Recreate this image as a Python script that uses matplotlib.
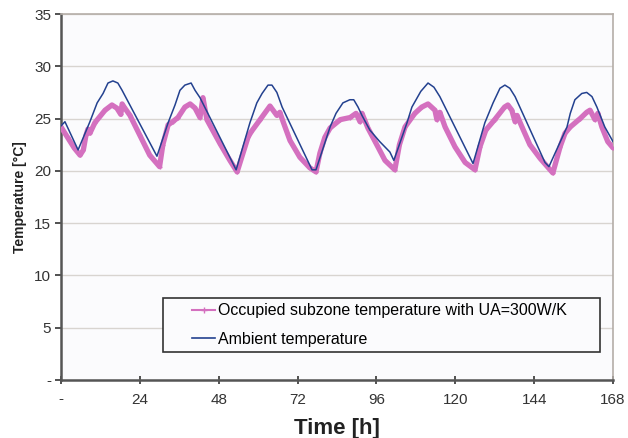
import matplotlib.pyplot as plt
from matplotlib.patches import Rectangle

# ambient temperature (hours, degC)
amb_t = [0, 1.2, 5.2, 8.8, 11, 12.8, 14.3, 15.8, 17.3, 18.6, 29.2,
         32.6, 34.7, 36.2, 37.7, 39.6, 40.8, 42.3, 53.3,
         57.5, 59.6, 61.2, 63, 64.2, 65.7, 67.3, 76.4,
         77.6, 81.9, 83.7, 85.8, 87.9, 89.1, 90.4, 91.6, 94, 97, 100.1, 101.3,
         105.3, 106.8, 109.5, 111.7, 113.5, 115.3, 125.4,
         129, 131.5, 133.6, 135.1, 136.6, 138.2, 147.3,
         148.5, 154, 155, 156.4, 158.5, 160, 161.6, 163.1, 165.5, 168]
amb_v = [24.3, 24.7, 22.0, 24.7, 26.5, 27.4, 28.4, 28.6, 28.4, 27.7, 21.4,
         24.6, 26.3, 27.7, 28.2, 28.4, 27.7, 27.0, 20.1,
         24.6, 26.5, 27.4, 28.2, 28.2, 27.5, 26.1, 20.1,
         20.1, 24.2, 25.5, 26.5, 26.8, 26.8, 26.1, 25.3, 23.9, 22.8, 21.8, 21.0,
         24.6, 26.1, 27.6, 28.4, 28.0, 27.1, 20.7,
         24.6, 26.5, 27.9, 28.2, 27.9, 27.1, 20.8,
         20.4, 24.2, 25.5, 26.8, 27.4, 27.5, 27.1, 26.1, 24.2, 22.8]

# occupied subzone temperature with UA=300W/K
zone_t = [0, 2, 4, 5.8, 6.8, 7.6, 8.2, 8.8, 10.3, 13.4, 15.5, 17.0, 18.2, 18.6, 19.2, 21,
          24, 27, 30,
          31, 32.6, 34.0, 35.6, 37.7, 39.3, 40.8, 42.3, 43.2, 44.4, 48.4, 51.4, 53.6,
          56.9, 57.8, 60.6, 63.6, 65.7, 66.6, 67.6, 69.7, 72.7, 75.7, 77.6,
          78.8, 80.3, 81.9, 85, 88, 89.8, 91.0, 91.6, 93.4, 95.6, 98.6, 101.6,
          103, 104.7, 107.7, 109.8, 111.7, 113.8, 114.4, 115.3, 116.9, 119.9, 123, 126,
          127.5, 129.3, 132, 135, 136, 137.2, 138.2, 138.8, 140.3, 142.7, 145.8, 149.7,
          151.9, 153.4, 155, 158, 160, 161, 162.5, 163.4, 164.6, 166.4, 168]
zone_v = [24.2, 23.2, 22.2, 21.5, 22.0, 23.4, 24.0, 23.6, 24.6, 25.8, 26.3, 26.0, 25.4, 26.4, 26.1, 25.3,
          23.4, 21.5, 20.4,
          22.5, 24.4, 24.7, 25.1, 26.1, 26.4, 26.0, 25.1, 27.0, 24.9, 22.6, 21.0, 19.9,
          23.2, 23.7, 24.9, 26.2, 25.3, 25.6, 24.7, 22.9, 21.3, 20.3, 19.9,
          21.7, 23.2, 24.1, 24.9, 25.1, 25.5, 24.7, 25.5, 24.1, 22.8, 21.0, 20.1,
          22.5, 24.2, 25.5, 26.1, 26.4, 25.8, 24.9, 25.6, 24.2, 22.3, 20.8, 20.1,
          22.3, 23.9, 24.9, 26.1, 26.3, 25.8, 24.7, 25.3, 24.2, 22.5, 21.2, 19.8,
          22.3, 23.6, 24.2, 25.0, 25.6, 25.8, 24.9, 25.5, 24.2, 22.8, 22.2]

x_ticks = [0, 24, 48, 72, 96, 120, 144, 168]
x_labels = ['-', '24', '48', '72', '96', '120', '144', '168']
y_ticks = [0, 5, 10, 15, 20, 25, 30, 35]
y_labels = ['-', '5', '10', '15', '20', '25', '30', '35']

pink = '#d470bf'
navy = '#23418f'

plt.rcParams['font.family'] = ['Liberation Sans', 'DejaVu Sans']

fig = plt.figure(figsize=(6.28, 4.38), dpi=100)
ax = fig.add_axes([61 / 628, 1 - 380 / 438, 552 / 628, 366 / 438])
ax.set_facecolor('#fbfbfd')

ax.plot(zone_t, zone_v, color=pink, linewidth=3.8, marker='+', markersize=3,
        markeredgewidth=1, solid_capstyle='round', solid_joinstyle='round', zorder=3)
ax.plot(amb_t, amb_v, color=navy, linewidth=1.1, solid_joinstyle='round', zorder=4)

ax.set_xlim(0, 168)
ax.set_ylim(0, 35)
ax.set_xticks(x_ticks)
ax.set_xticklabels(x_labels)
ax.set_yticks(y_ticks)
ax.set_yticklabels(y_labels)
ax.tick_params(axis='both', labelsize=11, colors='#333333', length=4,
               width=1.2, direction='out', pad=3)
ax.tick_params(axis='x', direction='inout', length=6, pad=6)
ax.grid(axis='y', color='#d8d4d0', linewidth=1)
ax.set_axisbelow(True)

for side in ['left', 'bottom']:
    ax.spines[side].set_color('#555555')
    ax.spines[side].set_linewidth(1.8)
for side in ['top', 'right']:
    ax.spines[side].set_color('#b5aea8')
    ax.spines[side].set_linewidth(1.2)

ax.set_xlabel('Time [h]', fontsize=16, fontweight='bold', color='#222222', labelpad=8)
ax.set_ylabel('Temperature [\u00b0C]', fontsize=10, fontweight='bold', color='#222222', labelpad=5)

# legend box drawn separately so the entries sit indented like the original
box = Rectangle(((163 - 61) / 552, (380 - 352) / 366), (600 - 163) / 552, (352 - 298) / 366,
                transform=ax.transAxes, facecolor='#fbfbfd', edgecolor='#333333',
                linewidth=1.2, zorder=5)
ax.add_patch(box)

leg_pink = plt.Line2D([], [], color=pink, linewidth=1.5, marker='+', markersize=4)
leg_blue = plt.Line2D([], [], color=navy, linewidth=1.2)
leg = ax.legend([leg_pink, leg_blue],
                ['Occupied subzone temperature with UA=300W/K', 'Ambient temperature'],
                loc='center left', bbox_to_anchor=((192 - 61) / 552, (380 - 325) / 366),
                fontsize=11.5, frameon=False, handlelength=1.45, handletextpad=0.15,
                borderpad=0, labelspacing=0.85, borderaxespad=0)
leg.set_zorder(6)

fig.savefig('out.png', dpi=100)
